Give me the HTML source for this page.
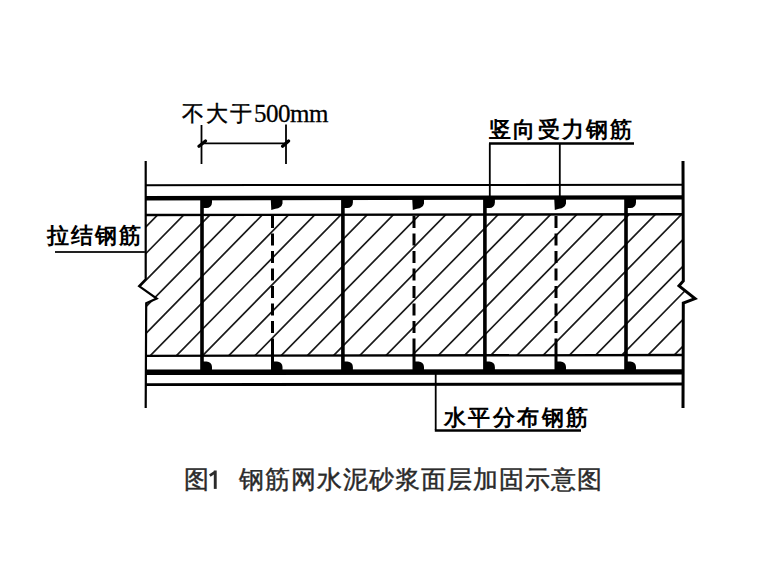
<!DOCTYPE html>
<html><head><meta charset="utf-8"><style>
html,body{margin:0;padding:0;background:#fff;width:760px;height:567px;overflow:hidden;position:relative}
svg{position:absolute;left:0;top:0}
.t{position:absolute;white-space:nowrap;font-family:"Liberation Serif",serif;color:#000;line-height:1}
.lab{font-weight:bold;font-size:22px}
.cap{font-family:"Liberation Sans",sans-serif;font-size:25px;color:#2a2a2a;letter-spacing:1px;-webkit-text-stroke:0.45px #2a2a2a}
</style></head><body>
<svg width="760" height="567" viewBox="0 0 760 567"><defs><clipPath id="wc"><path d="M146 215L146 279.2L139.1 286.2L156.7 298.6L146.2 303.2L146 356L683 356L683.3 303L695 298.6L679 285.8L683.3 281L683 215Z"/></clipPath></defs><path clip-path="url(#wc)" d="M108.15 212L-37.19 360M134.32 212L-11.02 360M160.49 212L15.15 360M186.66 212L41.32 360M212.83 212L67.49 360M239.00 212L93.66 360M265.17 212L119.83 360M291.34 212L146.00 360M317.51 212L172.17 360M343.68 212L198.34 360M369.85 212L224.51 360M396.02 212L250.68 360M422.19 212L276.85 360M448.36 212L303.02 360M474.53 212L329.19 360M500.70 212L355.36 360M526.87 212L381.53 360M553.04 212L407.70 360M579.21 212L433.87 360M605.38 212L460.04 360M631.55 212L486.21 360M657.72 212L512.38 360M683.89 212L538.55 360M710.06 212L564.72 360M736.23 212L590.89 360M762.40 212L617.06 360M788.57 212L643.23 360M814.74 212L669.40 360M840.91 212L695.57 360M867.08 212L721.74 360M893.25 212L747.91 360" stroke="#1a1a1a" stroke-width="1.7" fill="none"/><path d="M145 184.2L683 183.8L683 185.8L145 186.2Z" fill="#000"/><path d="M145 196L683 195.2L683 199.5L145 200.5Z" fill="#000"/><path d="M145 213.8L683 213L683 215.6L145 216.2Z" fill="#000"/><path d="M145 354.8L683 353.8L683 356.2L145 357Z" fill="#000"/><path d="M145 369.5L683 369.3L683 374.5L145 375Z" fill="#000"/><path d="M145 383.2L683 382.6L683 385.6L145 386Z" fill="#000"/><path d="M145.7 161L145.7 279.2L139.1 286.2L156.7 298.6L146.2 303.2L145.7 408" stroke="#000" stroke-width="2.2" fill="none" stroke-linejoin="miter"/><path d="M683 161L683.3 281L679 285.8L695 298.6L683.3 303L683 408" stroke="#000" stroke-width="3" fill="none"/><rect x="200.2" y="197" width="3.6" height="175" fill="#000"/><rect x="341.09999999999997" y="197" width="3.6" height="175" fill="#000"/><rect x="483.09999999999997" y="197" width="3.6" height="175" fill="#000"/><rect x="624.2" y="197" width="3.6" height="175" fill="#000"/><path d="M272.5 216L272.5 338" stroke="#000" stroke-width="3" stroke-dasharray="12 5.5" fill="none"/><rect x="271.0" y="338.5" width="3" height="32" fill="#000"/><path d="M270.7 198H282.5V203.5Q281.5 208 275.5 208.8Q272.5 209.5 271.3 210Z" fill="#000"/><path d="M272.5 371L282.5 371L282.5 367A5.5 5.5 0 0 0 277.0 361.5L272.5 361.5Z" fill="#000"/><path d="M414 216L414 338" stroke="#000" stroke-width="3" stroke-dasharray="12 5.5" fill="none"/><rect x="412.5" y="338.5" width="3" height="32" fill="#000"/><path d="M412.2 198H424V203.5Q423 208 417 208.8Q414 209.5 412.8 210Z" fill="#000"/><path d="M414 371L424 371L424 367A5.5 5.5 0 0 0 418.5 361.5L414 361.5Z" fill="#000"/><path d="M556 216L556 338" stroke="#000" stroke-width="3" stroke-dasharray="12 5.5" fill="none"/><rect x="554.5" y="338.5" width="3" height="32" fill="#000"/><path d="M554.2 198H566V203.5Q565 208 559 208.8Q556 209.5 554.8 210Z" fill="#000"/><path d="M556 371L566 371L566 367A5.5 5.5 0 0 0 560.5 361.5L556 361.5Z" fill="#000"/><path d="M202 198L212 198L212 202.5A5.5 5.5 0 0 1 206.5 208L202 208Z" fill="#000"/><path d="M202 371L212 371L212 367A5.5 5.5 0 0 0 206.5 361.5L202 361.5Z" fill="#000"/><path d="M342.9 198L352.9 198L352.9 202.5A5.5 5.5 0 0 1 347.4 208L342.9 208Z" fill="#000"/><path d="M342.9 371L352.9 371L352.9 367A5.5 5.5 0 0 0 347.4 361.5L342.9 361.5Z" fill="#000"/><path d="M484.9 198L494.9 198L494.9 202.5A5.5 5.5 0 0 1 489.4 208L484.9 208Z" fill="#000"/><path d="M484.9 371L494.9 371L494.9 367A5.5 5.5 0 0 0 489.4 361.5L484.9 361.5Z" fill="#000"/><path d="M626 198L636 198L636 202.5A5.5 5.5 0 0 1 630.5 208L626 208Z" fill="#000"/><path d="M626 371L636 371L636 367A5.5 5.5 0 0 0 630.5 361.5L626 361.5Z" fill="#000"/><path d="M201.5 125L201.5 164M286 124.5L286 164M201.5 143.3L286 143.3" stroke="#000" stroke-width="1.8" fill="none"/><path d="M199 146.2L205.5 141M282.6 146.2L288.6 141" stroke="#000" stroke-width="3.2" stroke-linecap="round" fill="none"/><path d="M489.8 143.5L489.8 197M559.8 143.5L559.8 197" stroke="#000" stroke-width="1.8" fill="none"/><path d="M489 143.5L634 143.5" stroke="#000" stroke-width="2.4" fill="none"/><path d="M55 252L145 252" stroke="#222" stroke-width="2" fill="none"/><path d="M435.7 372L435.7 430" stroke="#000" stroke-width="1.8" fill="none"/><path d="M434.8 430.5L581 430.5" stroke="#000" stroke-width="2.6" fill="none"/><rect x="213.8" y="470.5" width="2.9" height="18.4" fill="#2b2b2b"/><path d="M209.8 475.6L215 472.2" stroke="#2b2b2b" stroke-width="2.8"/></svg>
<div class="t" style="left:182px;top:103px;font-size:22px;letter-spacing:2.2px;-webkit-text-stroke:0.4px #000">不大于</div>
<div class="t" style="left:254px;top:101px;font-size:25px;letter-spacing:-0.5px;-webkit-text-stroke:0.3px #000">500mm</div>
<div class="t lab" style="left:489px;top:119px;letter-spacing:2.26px">竖向受力钢筋</div>
<div class="t lab" style="left:47px;top:225px;letter-spacing:2.1px">拉结钢筋</div>
<div class="t lab" style="left:444px;top:406.5px;letter-spacing:2.4px">水平分布钢筋</div>
<div class="t cap" style="left:184px;top:467px">图</div><div class="t cap" style="left:239px;top:467px">钢筋网水泥砂浆面层加固示意图</div>
</body></html>
